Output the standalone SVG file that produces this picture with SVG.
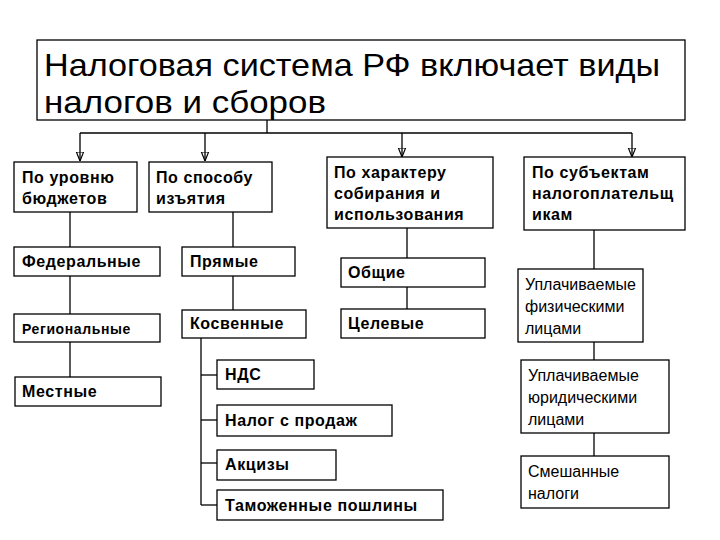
<svg xmlns="http://www.w3.org/2000/svg" width="720" height="540" viewBox="0 0 720 540">
<style>
rect{fill:#fff;stroke:#000;stroke-width:1.3}
text{font-family:"Liberation Sans",Arial,sans-serif;font-size:16px;fill:#000}
.b{font-weight:bold;letter-spacing:0.6px}
.t{font-size:32px}
line,path{stroke:#000;stroke-width:1.3;fill:none}
</style>
<defs><marker id="a" viewBox="0 0 10 10" refX="10" refY="5" markerWidth="7" markerHeight="7" orient="auto"><path d="M0,1 L10,5 L0,9 z" fill="#000" stroke="none"/></marker></defs>
<rect width="720" height="540" style="stroke:none"/>
<g id="connectors">
<line x1="267" y1="120" x2="267" y2="133"/>
<line x1="80" y1="133" x2="632" y2="133"/>
<line x1="80" y1="133" x2="80" y2="161" marker-end="url(#a)"/>
<line x1="205" y1="133" x2="205" y2="161" marker-end="url(#a)"/>
<line x1="402" y1="133" x2="402" y2="157" marker-end="url(#a)"/>
<line x1="632" y1="133" x2="632" y2="157" marker-end="url(#a)"/>
<line x1="70" y1="212" x2="70" y2="377"/>
<line x1="233" y1="212" x2="233" y2="310"/>
<line x1="201" y1="338" x2="201" y2="505"/>
<line x1="201" y1="375" x2="217" y2="375"/>
<line x1="201" y1="420" x2="217" y2="420"/>
<line x1="201" y1="463" x2="217" y2="463"/>
<line x1="201" y1="505" x2="217" y2="505"/>
<line x1="407" y1="228" x2="407" y2="309"/>
<line x1="594" y1="230" x2="594" y2="456"/>
</g>
<g id="title"><rect x="37" y="40" width="648" height="80"/>
<text class="t" x="44" y="76" textLength="616" lengthAdjust="spacingAndGlyphs">Налоговая система РФ включает виды</text>
<text class="t" x="44" y="113" textLength="282" lengthAdjust="spacingAndGlyphs">налогов и сборов</text></g>
<g id="n1"><rect x="14" y="162" width="123" height="50"/><text class="b" x="22" y="183">По уровню</text><text class="b" x="22" y="204">бюджетов</text></g>
<g id="n2"><rect x="149" y="162" width="123" height="50"/><text class="b" x="156" y="183">По способу</text><text class="b" x="156" y="204">изъятия</text></g>
<g id="n3"><rect x="327" y="157" width="166" height="71"/><text class="b" x="334" y="178">По характеру</text><text class="b" x="334" y="199">собирания и</text><text class="b" x="334" y="220">использования</text></g>
<g id="n4"><rect x="524" y="157" width="161" height="73"/><text class="b" x="532" y="178">По субъектам</text><text class="b" x="532" y="199">налогоплательщ</text><text class="b" x="532" y="220">икам</text></g>
<g id="n5"><rect x="14" y="247" width="146" height="29"/><text class="b" x="22" y="267">Федеральные</text></g>
<g id="n6"><rect x="182" y="247" width="113" height="29"/><text class="b" x="190" y="267">Прямые</text></g>
<g id="n7"><rect x="341" y="258" width="144" height="29"/><text class="b" x="348" y="278">Общие</text></g>
<g id="n8"><rect x="14" y="314" width="146" height="28"/><text class="b" x="22" y="334" style="font-size:14px">Региональные</text></g>
<g id="n9"><rect x="182" y="310" width="124" height="28"/><text class="b" x="190" y="329">Косвенные</text></g>
<g id="n10"><rect x="341" y="309" width="144" height="29"/><text class="b" x="348" y="329">Целевые</text></g>
<g id="n11"><rect x="518" y="269" width="125" height="73"/><text x="525" y="290">Уплачиваемые</text><text x="525" y="312">физическими</text><text x="525" y="334">лицами</text></g>
<g id="n12"><rect x="15" y="377" width="146" height="29"/><text class="b" x="22" y="397">Местные</text></g>
<g id="n13"><rect x="217" y="360" width="97" height="29"/><text class="b" x="225" y="380">НДС</text></g>
<g id="n14"><rect x="521" y="360" width="148" height="73"/><text x="528" y="381">Уплачиваемые</text><text x="528" y="403">юридическими</text><text x="528" y="425">лицами</text></g>
<g id="n15"><rect x="217" y="405" width="175" height="31"/><text class="b" x="225" y="426">Налог с продаж</text></g>
<g id="n16"><rect x="217" y="450" width="119" height="30"/><text class="b" x="225" y="470">Акцизы</text></g>
<g id="n17"><rect x="521" y="456" width="148" height="52"/><text x="528" y="477">Смешанные</text><text x="528" y="499">налоги</text></g>
<g id="n18"><rect x="217" y="490" width="226" height="30"/><text class="b" x="225" y="511">Таможенные пошлины</text></g>
</svg>
